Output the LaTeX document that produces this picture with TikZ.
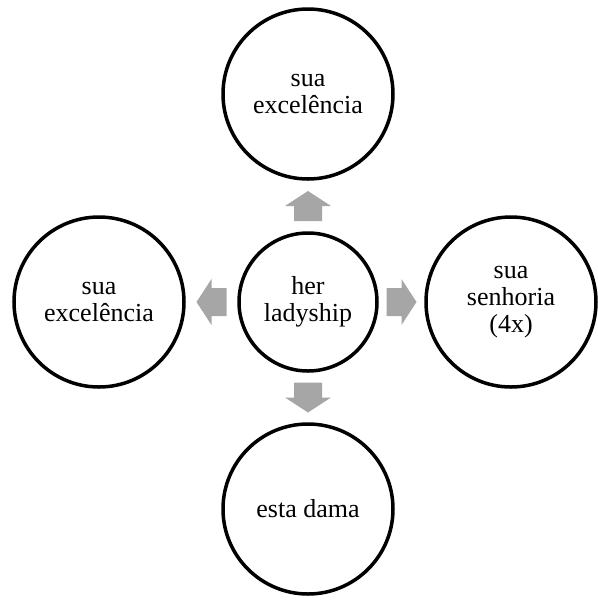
\documentclass[tikz,border=0pt]{standalone}
\usepackage{fontspec}
\setmainfont{Liberation Serif}
\usetikzlibrary{calc}
\definecolor{arrowgray}{RGB}{166,166,166}
\tikzset{
  bubble/.style={circle, draw=black, line width=1.75pt, fill=white, inner sep=0pt,
    minimum size=85pt, align=center, font=\fontsize{13}{13.6}\selectfont},
  hub/.style={bubble, minimum size=69pt},
  blockarrow/.pic={\fill[arrowgray] (-15,-14) -- (0,-14) -- (0,-23) -- (15,0) -- (0,23) -- (0,14) -- (-15,14) -- cycle;}
}
\begin{document}
\begin{tikzpicture}[x=0.5pt,y=-0.5pt]
\useasboundingbox (0,0) rectangle (598,601);
\node[hub] (c) at (308,302) {her\\ladyship};
\node[bubble] (t) at (308,94) {sua\\excelência};
\node[bubble] (b) at (308,509) {esta dama};
\node[bubble] (l) at (99,302) {sua\\excelência};
\node[bubble] (r) at (511,302) {sua\\senhoria\\(4x)};
\pic[rotate=90] at ($(c.north)!0.5!(t.south)$) {blockarrow};
\pic[rotate=270] at ($(c.south)!0.5!(b.north)$) {blockarrow};
\pic[rotate=180] at ($(c.west)!0.5!(l.east)$) {blockarrow};
\pic at ($(c.east)!0.5!(r.west)$) {blockarrow};
\end{tikzpicture}
\end{document}
